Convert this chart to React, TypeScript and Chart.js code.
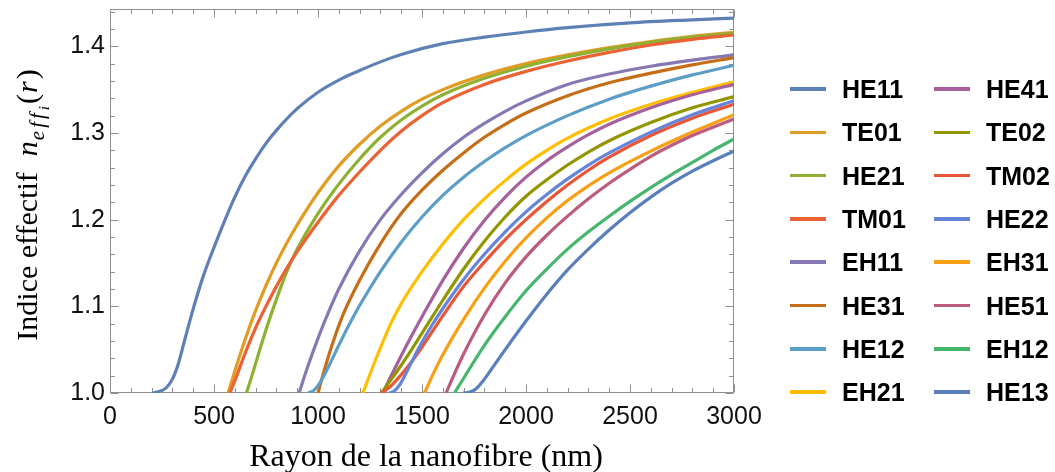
import React, { useEffect, useRef } from 'react';
import { Chart, registerables } from 'chart.js';

Chart.register(...registerables);

// ---------- data ----------
const X_TICKS = [0, 500, 1000, 1500, 2000, 2500, 3000];
const Y_TICKS = [1.0, 1.1, 1.2, 1.3, 1.4];
const X_MIN = 0;
const X_MAX = 3000;
const Y_MIN = 1.0;
const Y_MAX = 1.443;

const X_TITLE = 'Rayon de la nanofibre (nm)';
const Y_TITLE = 'Indice effectif';

const MODES = [
  'HE11', 'TE01', 'HE21', 'TM01', 'EH11', 'HE31', 'HE12', 'EH21',
  'HE41', 'TE02', 'TM02', 'HE22', 'EH31', 'HE51', 'EH12', 'HE13',
];

const COLORS = [
  '#5E81B5', '#E19C24', '#8FB032', '#EB6235', '#8778B3', '#C56E1A', '#5D9EC7', '#FFBF00',
  '#A5609D', '#929600', '#E95536', '#6685D9', '#F89F13', '#BC5B80', '#47B66D', '#5A7FBD',
];

// [radius (nm), effective index]
const HE11: [number, number][] = [
  [205, 1.0], [240, 1.002], [270, 1.006], [300, 1.016], [330, 1.035], [360, 1.062], [400, 1.097],
  [450, 1.136], [500, 1.168], [550, 1.198], [600, 1.226], [650, 1.25], [700, 1.27], [750, 1.288],
  [800, 1.303], [900, 1.328], [1000, 1.347], [1100, 1.361], [1200, 1.372], [1300, 1.382],
  [1400, 1.3905], [1600, 1.403], [1800, 1.4105], [2000, 1.4165], [2200, 1.4215], [2500, 1.427],
  [2800, 1.4305], [3000, 1.4325],
];
const TE01: [number, number][] = [
  [568, 1.0], [600, 1.025], [650, 1.062], [700, 1.095], [750, 1.124], [800, 1.15], [850, 1.173],
  [900, 1.194], [1000, 1.231], [1100, 1.262], [1200, 1.287], [1300, 1.308], [1400, 1.325],
  [1500, 1.339], [1600, 1.35], [1800, 1.367], [2000, 1.38], [2200, 1.39], [2400, 1.3985],
  [2600, 1.4055], [2800, 1.4115], [3000, 1.416],
];
const HE21: [number, number][] = [
  [656, 1.0], [680, 1.018], [700, 1.034], [750, 1.073], [800, 1.108], [850, 1.14], [900, 1.166],
  [1000, 1.207], [1100, 1.241], [1200, 1.27], [1300, 1.295], [1400, 1.315], [1500, 1.331],
  [1600, 1.344], [1800, 1.363], [2000, 1.377], [2200, 1.388], [2400, 1.397], [2600, 1.4045],
  [2800, 1.4105], [3000, 1.415],
];
const TM01: [number, number][] = [
  [576, 1.0], [600, 1.014], [650, 1.046], [700, 1.075], [750, 1.1], [800, 1.123], [850, 1.144],
  [900, 1.163], [1000, 1.197], [1100, 1.228], [1200, 1.255], [1300, 1.28], [1400, 1.302],
  [1500, 1.32], [1600, 1.335], [1800, 1.356], [2000, 1.371], [2200, 1.383], [2400, 1.393],
  [2600, 1.4015], [2800, 1.408], [3000, 1.413],
];
const EH11: [number, number][] = [
  [909, 1.0], [950, 1.03], [1000, 1.063], [1050, 1.093], [1100, 1.12], [1200, 1.164],
  [1300, 1.2], [1400, 1.229], [1500, 1.254], [1600, 1.276], [1700, 1.295], [1800, 1.311],
  [1900, 1.325], [2000, 1.337], [2200, 1.356], [2400, 1.368], [2600, 1.377], [2800, 1.384],
  [3000, 1.39],
];
const HE31: [number, number][] = [
  [1000, 1.0], [1030, 1.026], [1070, 1.057], [1120, 1.09], [1200, 1.13], [1300, 1.172],
  [1400, 1.207], [1500, 1.234], [1600, 1.257], [1700, 1.277], [1800, 1.295], [1900, 1.31],
  [2000, 1.323], [2200, 1.343], [2400, 1.358], [2600, 1.369], [2800, 1.3785], [3000, 1.387],
];
const HE12: [number, number][] = [
  [952, 1.0], [980, 1.003], [1010, 1.012], [1050, 1.03], [1100, 1.055], [1150, 1.079],
  [1200, 1.101], [1300, 1.14], [1400, 1.174], [1500, 1.203], [1600, 1.228], [1700, 1.249],
  [1800, 1.267], [1900, 1.283], [2000, 1.297], [2200, 1.32], [2400, 1.339], [2600, 1.354],
  [2800, 1.367], [3000, 1.378],
];
const EH21: [number, number][] = [
  [1216, 1.0], [1260, 1.028], [1300, 1.052], [1350, 1.08], [1400, 1.103], [1500, 1.14],
  [1600, 1.172], [1700, 1.2], [1800, 1.224], [1900, 1.245], [2000, 1.264], [2100, 1.28],
  [2200, 1.294], [2400, 1.316], [2600, 1.333], [2800, 1.347], [3000, 1.359],
];
const HE41: [number, number][] = [
  [1312, 1.0], [1350, 1.019], [1400, 1.043], [1450, 1.066], [1500, 1.088], [1600, 1.13],
  [1700, 1.167], [1800, 1.199], [1900, 1.226], [2000, 1.249], [2100, 1.268], [2200, 1.284],
  [2300, 1.298], [2400, 1.31], [2600, 1.329], [2800, 1.344], [3000, 1.356],
];
const TE02: [number, number][] = [
  [1305, 1.0], [1350, 1.015], [1400, 1.032], [1450, 1.05], [1500, 1.069], [1600, 1.107],
  [1700, 1.143], [1800, 1.175], [1900, 1.203], [2000, 1.227], [2100, 1.246], [2200, 1.263],
  [2300, 1.278], [2400, 1.291], [2600, 1.312], [2800, 1.329], [3000, 1.342],
];
const TM02: [number, number][] = [
  [1307, 1.0], [1350, 1.008], [1400, 1.021], [1450, 1.036], [1500, 1.053], [1600, 1.089],
  [1700, 1.123], [1800, 1.151], [1900, 1.177], [2000, 1.2], [2100, 1.221], [2200, 1.24],
  [2300, 1.257], [2400, 1.272], [2600, 1.297], [2800, 1.317], [3000, 1.333],
];
const HE22: [number, number][] = [
  [1344, 1.0], [1365, 1.002], [1392, 1.009], [1430, 1.026], [1480, 1.05], [1550, 1.079],
  [1616, 1.103], [1700, 1.131], [1800, 1.16], [1900, 1.186], [2000, 1.209], [2100, 1.229],
  [2200, 1.247], [2300, 1.263], [2400, 1.277], [2600, 1.301], [2800, 1.321], [3000, 1.337],
];
const EH31: [number, number][] = [
  [1512, 1.0], [1550, 1.02], [1600, 1.044], [1700, 1.085], [1800, 1.121], [1900, 1.152],
  [2000, 1.179], [2100, 1.202], [2200, 1.222], [2300, 1.239], [2400, 1.254], [2600, 1.279],
  [2800, 1.301], [3000, 1.321],
];
const HE51: [number, number][] = [
  [1616, 1.0], [1650, 1.019], [1700, 1.045], [1800, 1.09], [1900, 1.127], [2000, 1.157],
  [2100, 1.182], [2200, 1.204], [2300, 1.224], [2400, 1.242], [2500, 1.258], [2600, 1.273],
  [2800, 1.297], [3000, 1.316],
];
const EH12: [number, number][] = [
  [1656, 1.0], [1700, 1.017], [1800, 1.055], [1900, 1.088], [2000, 1.118], [2100, 1.143],
  [2200, 1.166], [2300, 1.186], [2400, 1.204], [2500, 1.221], [2600, 1.237], [2700, 1.252],
  [2800, 1.266], [2900, 1.28], [3000, 1.293],
];
const HE13: [number, number][] = [
  [1696, 1.0], [1730, 1.001], [1760, 1.005], [1800, 1.016], [1850, 1.033], [1900, 1.05],
  [2000, 1.083], [2100, 1.114], [2200, 1.142], [2300, 1.166], [2400, 1.188], [2500, 1.208],
  [2600, 1.226], [2700, 1.242], [2800, 1.256], [2900, 1.268], [3000, 1.279],
];

const SERIES = [
  HE11, TE01, HE21, TM01, EH11, HE31, HE12, EH21,
  HE41, TE02, TM02, HE22, EH31, HE51, EH12, HE13,
];

// ---------- styles ----------
const FRAME = '#8f8f8f';
const SANS = '"Liberation Sans", Arial, sans-serif';
const SERIF = '"Liberation Serif", "Times New Roman", serif';

const frameTicks = {
  id: 'frameTicks',
  beforeDatasetsDraw(chart: any) {
    const { ctx, chartArea: a, scales } = chart;
    const x = scales.x;
    const y = scales.y;
    const L = Math.round(a.left) + 0.5;
    const R = Math.round(a.right) - 0.5;
    const T = Math.round(a.top) + 0.5;
    const B = Math.round(a.bottom) - 0.5;
    ctx.save();
    ctx.strokeStyle = FRAME;
    ctx.lineWidth = 1;
    ctx.beginPath();
    ctx.rect(L, T, R - L, B - T);
    ctx.stroke();
    ctx.beginPath();
    for (let v = X_MIN; v <= X_MAX + 1e-6; v += 100) {
      const major = X_TICKS.includes(v);
      const len = major ? 8 : 4.5;
      const px = Math.round(x.getPixelForValue(v)) + 0.5;
      ctx.moveTo(px, B); ctx.lineTo(px, B - len);
      ctx.moveTo(px, T); ctx.lineTo(px, T + len);
    }
    for (let k = 0; ; k++) {
      const v = Y_MIN + k * 0.02;
      if (v > Y_MAX + 1e-9) break;
      const major = k % 5 === 0;
      const len = major ? 8 : 4.5;
      const py = Math.round(y.getPixelForValue(v)) + 0.5;
      ctx.moveTo(L, py); ctx.lineTo(L + len, py);
      ctx.moveTo(R, py); ctx.lineTo(R - len, py);
    }
    ctx.stroke();
    ctx.restore();
  },
};

const axisTitles = {
  id: 'axisTitles',
  afterDraw(chart: any) {
    const { ctx, chartArea: a } = chart;
    ctx.save();
    ctx.fillStyle = '#000';
    ctx.textBaseline = 'alphabetic';
    // x title
    ctx.font = `32px ${SERIF}`;
    ctx.textAlign = 'center';
    ctx.fillText(X_TITLE, (a.left + a.right) / 2 + 4, 466);

    // y title with math n_{eff_i}(r)
    const segs = [
      { t: Y_TITLE, f: `30px ${SERIF}`, dy: 0, ls: 0, gap: 16 },
      { t: 'n', f: `italic 30px ${SERIF}`, dy: 0, ls: 0, gap: 1 },
      { t: 'eff', f: `italic 21px ${SERIF}`, dy: 7, ls: 3, gap: 0 },
      { t: 'i', f: `italic 15px ${SERIF}`, dy: 12, ls: 0, gap: 2 },
      { t: '(', f: `30px ${SERIF}`, dy: 0, ls: 0, gap: 1 },
      { t: 'r', f: `italic 30px ${SERIF}`, dy: 0, ls: 0, gap: 2 },
      { t: ')', f: `30px ${SERIF}`, dy: 0, ls: 0, gap: 0 },
    ];
    ctx.textAlign = 'left';
    let total = 0;
    const widths: number[] = [];
    for (const s of segs) {
      ctx.font = s.f;
      (ctx as any).letterSpacing = `${s.ls}px`;
      const w = ctx.measureText(s.t).width;
      widths.push(w);
      total += w + s.gap;
    }
    ctx.translate(37, (a.top + a.bottom) / 2 + 4);
    ctx.rotate(-Math.PI / 2);
    let cx = -total / 2;
    segs.forEach((s, i) => {
      ctx.font = s.f;
      (ctx as any).letterSpacing = `${s.ls}px`;
      ctx.fillText(s.t, cx, s.dy);
      cx += widths[i] + s.gap;
    });
    ctx.restore();
  },
};

export default function App() {
  const ref = useRef<HTMLCanvasElement>(null);

  useEffect(() => {
    const datasets = SERIES.map((s, i) => ({
      label: MODES[i],
      data: s.map(([r, n]) => ({ x: r, y: n })),
      borderColor: COLORS[i],
      backgroundColor: COLORS[i],
      borderWidth: 3.2,
      pointRadius: 0,
      pointHoverRadius: 0,
      fill: false,
      cubicInterpolationMode: 'monotone' as const,
      order: SERIES.length - i,
    }));

    const tickFont = { family: SANS, size: 25 };

    const chart = new Chart(ref.current as HTMLCanvasElement, {
      type: 'line',
      data: { datasets },
      options: {
        responsive: false,
        animation: false,
        devicePixelRatio: 1,
        layout: { autoPadding: false, padding: { left: 0, right: 321, top: 9, bottom: 0 } },
        plugins: { legend: { display: false }, tooltip: { enabled: false } },
        scales: {
          x: {
            type: 'linear',
            min: X_MIN,
            max: X_MAX,
            grid: { display: false, drawTicks: false },
            border: { display: false },
            afterBuildTicks: (s: any) => { s.ticks = X_TICKS.map((v) => ({ value: v })); },
            afterFit: (s: any) => { s.height = 79; s.paddingLeft = 0; s.paddingRight = 0; },
            ticks: {
              font: tickFont,
              color: '#111',
              padding: 9,
              maxRotation: 0,
              autoSkip: false,
              callback: (v: any) => String(v),
            },
          },
          y: {
            type: 'linear',
            min: Y_MIN,
            max: Y_MAX,
            grid: { display: false, drawTicks: false },
            border: { display: false },
            afterBuildTicks: (s: any) => { s.ticks = Y_TICKS.map((v) => ({ value: v })); },
            afterFit: (s: any) => { s.width = 110; s.paddingTop = 0; s.paddingBottom = 0; },
            ticks: {
              font: tickFont,
              color: '#111',
              padding: 5,
              autoSkip: false,
              callback: (v: any) => Number(v).toFixed(1),
            },
          },
        },
      } as any,
      plugins: [frameTicks, axisTitles],
    });
    return () => chart.destroy();
  }, []);

  const rowH = 43.3;
  return (
    <div style={{ position: 'fixed', left: 0, top: 0, width: 1055, height: 472, background: '#fff' }}>
      <canvas ref={ref} width={1055} height={472}
        style={{ position: 'absolute', left: 0, top: 0, width: 1055, height: 472 }} />
      {MODES.map((m, idx) => {
        const col = idx < 8 ? 0 : 1;
        const row = idx % 8;
        return (
          <div key={m} style={{
            position: 'absolute', left: col === 0 ? 790 : 934, top: 89 + row * rowH - 15,
            height: 30, display: 'flex', alignItems: 'center', whiteSpace: 'nowrap',
          }}>
            <span style={{ display: 'inline-block', width: 36, height: 3.5, background: COLORS[idx] }} />
            <span style={{ marginLeft: 16, font: `bold 25px ${SANS}`, color: '#000', lineHeight: '30px' }}>{m}</span>
          </div>
        );
      })}
    </div>
  );
}
